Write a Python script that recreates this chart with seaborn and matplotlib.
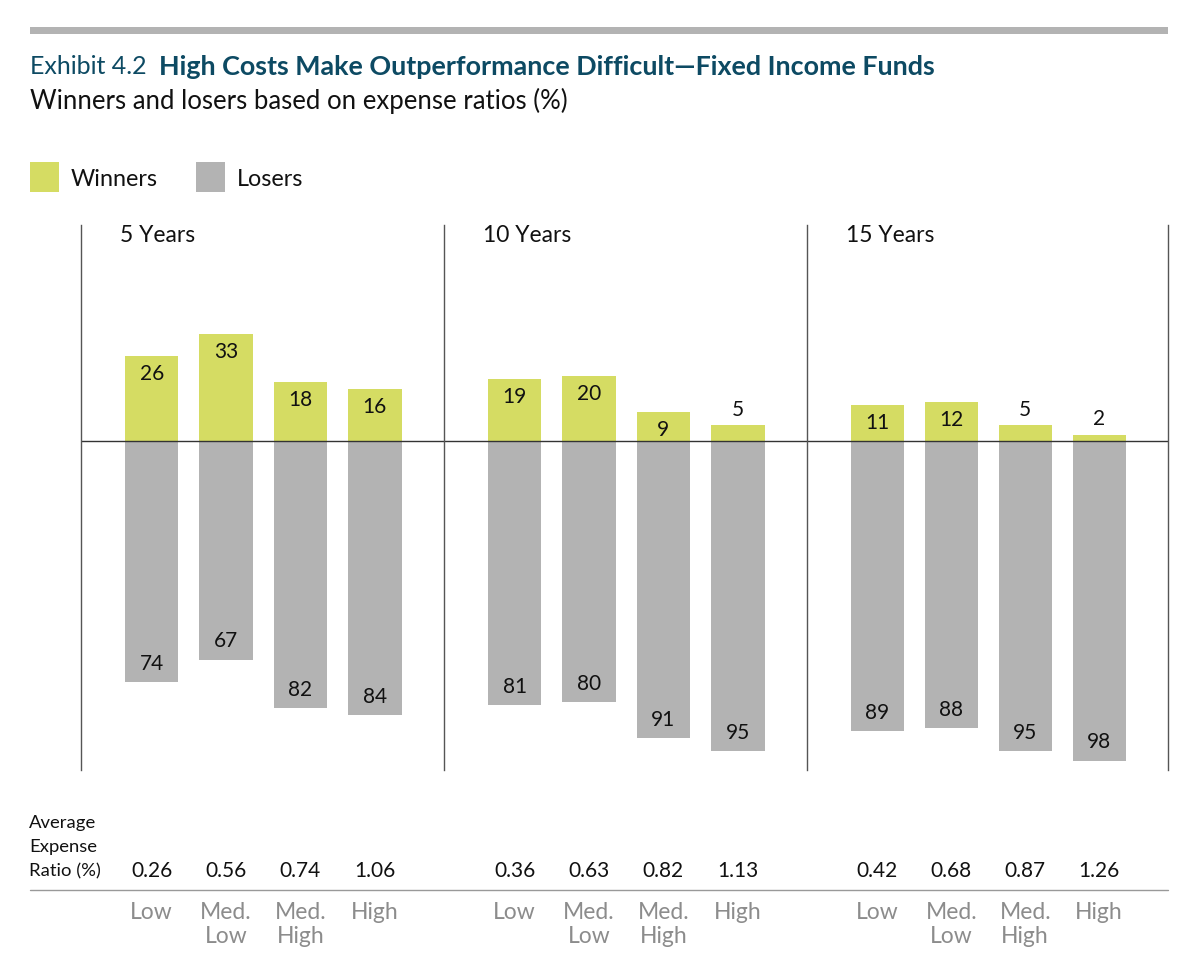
import matplotlib
matplotlib.use("Agg")
import matplotlib.pyplot as plt
import matplotlib.transforms as mtransforms
from matplotlib.patches import Rectangle
from matplotlib.lines import Line2D
import seaborn as sns
import pandas as pd

periods = ["5 Years", "10 Years", "15 Years"]
categories = ["Low", "Med.\nLow", "Med.\nHigh", "High"]
winners = [[26, 33, 18, 16], [19, 20, 9, 5], [11, 12, 5, 2]]
losers = [[74, 67, 82, 84], [81, 80, 91, 95], [89, 88, 95, 98]]
expense = [["0.26", "0.56", "0.74", "1.06"],
           ["0.36", "0.63", "0.82", "1.13"],
           ["0.42", "0.68", "0.87", "1.26"]]

WIN_COLOR = "#D5DC63"
LOSE_COLOR = "#B3B3B3"
TITLE_COLOR = "#0D4A63"
CAT_COLOR = "#8C8C8C"
FONT = ["Lato", "DejaVu Sans"]

sns.set_style("white")
plt.rcParams["font.family"] = FONT

W, H = 1202, 980
fig = plt.figure(figsize=(W / 100, H / 100), dpi=100)


def fx(px):
    return px / W


def fy(py):
    return 1 - py / H


# grey rule at the top
fig.patches.append(Rectangle((fx(30), fy(34)), fx(1168) - fx(30), fy(27) - fy(34),
                             transform=fig.transFigure, color=LOSE_COLOR, lw=0))

fig.text(fx(30), fy(67), "Exhibit 4.2", fontsize=18, color=TITLE_COLOR, va="center")
fig.text(fx(159), fy(67), "High Costs Make Outperformance Difficult\u2014Fixed Income Funds",
         fontsize=19.4, color=TITLE_COLOR, va="center", fontweight="bold")
fig.text(fx(30), fy(101), "Winners and losers based on expense ratios (%)",
         fontsize=18.5, color="#111111", va="center")

# legend
for x0, label, col in [(30, "Winners", WIN_COLOR), (196, "Losers", LOSE_COLOR)]:
    fig.patches.append(Rectangle((fx(x0), fy(192)), fx(29), fy(162) - fy(192),
                                 transform=fig.transFigure, color=col, lw=0))
    fig.text(fx(x0 + 41), fy(180), label, fontsize=16.8, color="#111111", va="center")

edges = [81, 444, 807, 1168]
for i, period in enumerate(periods):
    ax = fig.add_axes([fx(edges[i]), fy(770), fx(edges[i + 1]) - fx(edges[i]), fy(225) - fy(770)])
    df = pd.DataFrame({"cat": categories, "win": winners[i],
                       "lose": [-v for v in losers[i]]})
    sns.barplot(data=df, x="cat", y="win", color=WIN_COLOR, width=0.72,
                saturation=1, ax=ax, edgecolor="none")
    sns.barplot(data=df, x="cat", y="lose", color=LOSE_COLOR, width=0.72,
                saturation=1, ax=ax, edgecolor="none")
    ax.set_xlim(-0.95, 3.93)
    ax.set_ylim(-100.9, 66.3)
    ax.axhline(0, color="#333333", lw=1)
    ax.set(xlabel="", ylabel="", xticks=[], yticks=[])
    for side in ["top", "bottom", "right"]:
        ax.spines[side].set_visible(False)
    ax.spines["left"].set_color("#555555")
    ax.spines["left"].set_linewidth(1)
    if i == len(periods) - 1:
        ax.spines["right"].set_visible(True)
        ax.spines["right"].set_color("#555555")
        ax.spines["right"].set_linewidth(1)

    ax.text(39 / (edges[i + 1] - edges[i]), 1 - 11 / 545, period, transform=ax.transAxes,
            fontsize=16.5, color="#111111", va="center", ha="left")

    for j, (w, l) in enumerate(zip(winners[i], losers[i])):
        if w >= 8:
            ax.annotate(str(w), (j, w), xytext=(0, -13), textcoords="offset points",
                        ha="center", va="center", fontsize=15, color="#111111")
        else:
            ax.annotate(str(w), (j, w), xytext=(0, 11), textcoords="offset points",
                        ha="center", va="center", fontsize=15, color="#111111")
        ax.annotate(str(l), (j, -l), xytext=(0, 13), textcoords="offset points",
                    ha="center", va="center", fontsize=15, color="#111111")

    # expense ratios and category labels below the panel
    trans = mtransforms.blended_transform_factory(ax.transData, fig.transFigure)
    for j, cat in enumerate(categories):
        ax.text(j, fy(871), expense[i][j], transform=trans, ha="center", va="center",
                fontsize=15, color="#111111", clip_on=False)
        ax.text(j, fy(902), cat, transform=trans, ha="center", va="top",
                multialignment="center", fontsize=16.5, color=CAT_COLOR,
                linespacing=1.15, clip_on=False)

for k, line in enumerate(["Average", "Expense", "Ratio (%)"]):
    fig.text(fx(29), fy(823 + 24 * k), line, fontsize=13.3, color="#111111",
             va="center", ha="left")
fig.lines.append(Line2D([fx(30), fx(1168)], [fy(890), fy(890)], transform=fig.transFigure,
                        color="#999999", lw=1))

fig.savefig("out.png", dpi=100)
